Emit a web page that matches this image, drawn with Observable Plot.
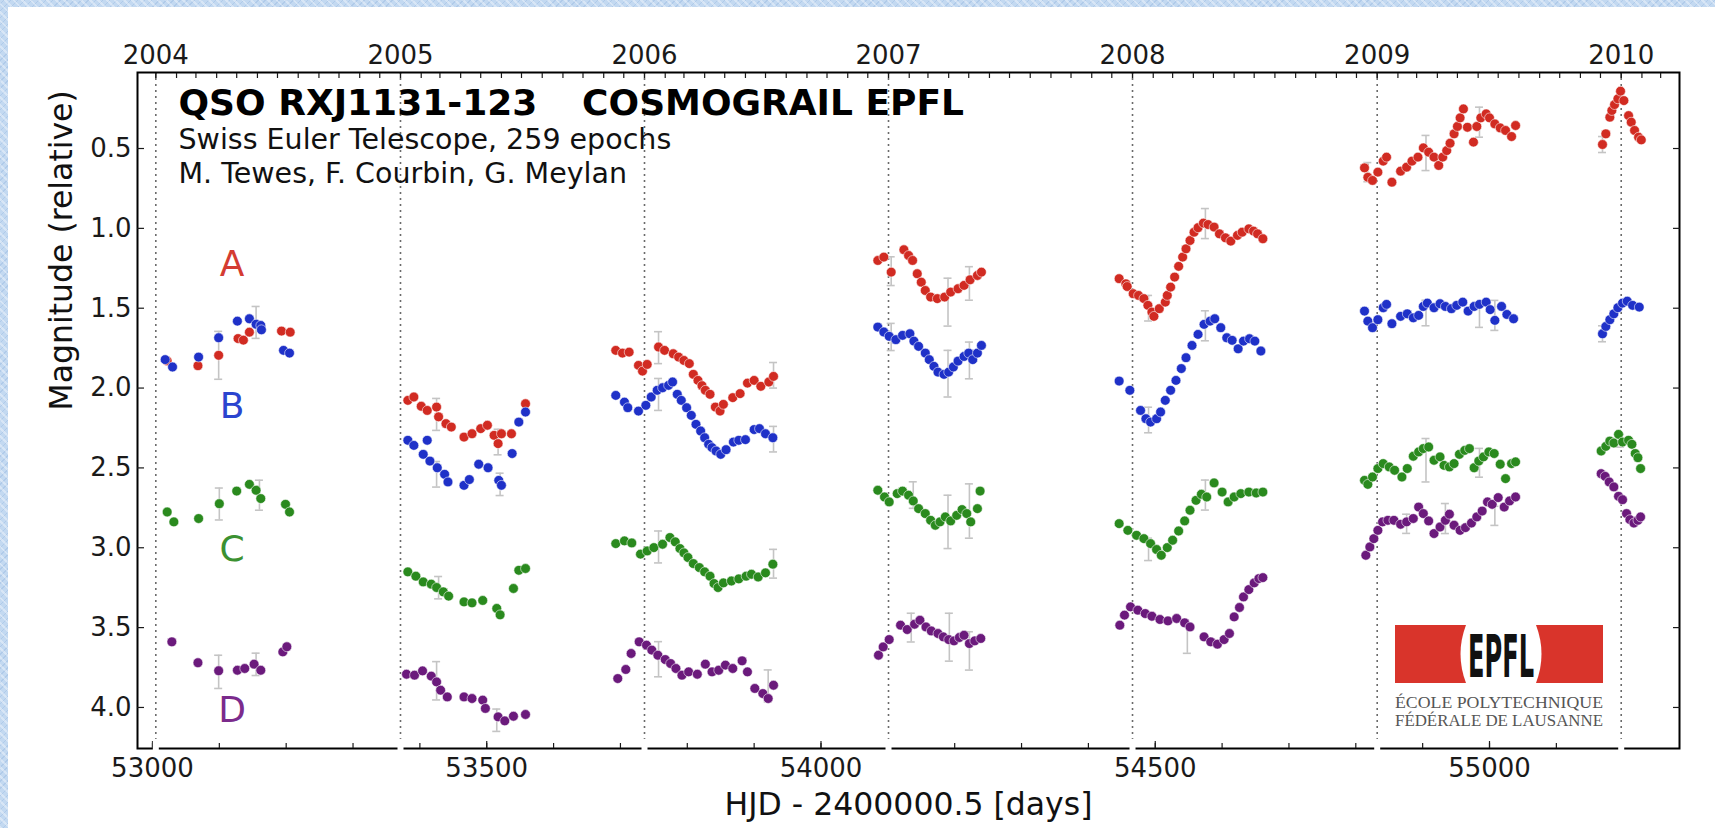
<!DOCTYPE html>
<html>
<head>
<meta charset="utf-8">
<script src="https://cdn.jsdelivr.net/npm/d3@7"></script>
<script src="https://cdn.jsdelivr.net/npm/@observablehq/plot@0.6"></script>
<style>
  html, body { margin: 0; padding: 0; width: 1715px; height: 828px; overflow: hidden; }
  body {
    background-color: #c3d9f1;
    background-image:
      repeating-linear-gradient(45deg, rgba(255,255,255,0.35) 0 2px, rgba(255,255,255,0) 2px 6px),
      repeating-linear-gradient(-45deg, rgba(120,160,210,0.25) 0 1px, rgba(255,255,255,0) 1px 5px);
    position: relative;
  }
  #panel { position: absolute; left: 8px; top: 7px; right: 0; bottom: 0; background: #ffffff; }
  #chart { position: absolute; left: 0; top: 0; }
  #logo { position: absolute; left: 0; top: 0; }
</style>
</head>
<body>
<div id="panel"></div>
<div id="chart"></div>
<svg id="logo" width="1715" height="828" xmlns="http://www.w3.org/2000/svg"></svg>
<script>
// ---------- data ----------
// each entry: [HJD - 2400000.5, relative magnitude]
const curveA = [
  [53022,1.83],[53068,1.86],[53099,1.795],[53128,1.69],[53136,1.70],[53145,1.65],[53193,1.643],[53206,1.65],
  [53382,2.077],[53391,2.056],[53402,2.114],[53411,2.14],[53425,2.119],[53428,2.18],[53439,2.223],[53447,2.244],[53466,2.307],[53478,2.286],[53491,2.254],[53501,2.233],[53511,2.296],[53517,2.348],[53522,2.286],[53537,2.286],[53558,2.098],
  [53693,1.764],[53703,1.781],[53713,1.775],[53727,1.858],[53733,1.894],[53740,1.852],[53757,1.743],[53766,1.764],[53779,1.785],[53787,1.806],[53795,1.827],[53803,1.847],[53809,1.914],[53816,1.952],[53822,1.985],[53827,2.014],[53834,2.039],[53842,2.119],[53849,2.144],[53854,2.102],[53868,2.06],[53879,2.035],[53890,1.969],[53900,1.952],[53910,1.989],[53922,1.962],[53929,1.927],
  [54085,1.201],[54094,1.18],[54105,1.274],[54124,1.134],[54131,1.17],[54137,1.201],[54144,1.284],[54150,1.337],[54156,1.389],[54164,1.43],[54174,1.44],[54185,1.43],[54194,1.399],[54205,1.378],[54214,1.357],[54223,1.322],[54234,1.295],[54240,1.274],
  [54446,1.315],[54456,1.347],[54458,1.364],[54467,1.409],[54475,1.42],[54483,1.44],[54489,1.482],[54495,1.524],[54498,1.551],[54506,1.503],[54515,1.462],[54518,1.42],[54523,1.368],[54529,1.305],[54535,1.238],[54541,1.18],[54546,1.128],[54552,1.076],[54558,1.024],[54564,0.996],[54572,0.967],[54579,0.976],[54588,0.992],[54596,1.034],[54605,1.059],[54613,1.08],[54623,1.044],[54630,1.024],[54640,1.003],[54647,1.017],[54653,1.034],[54661,1.065],
  [54813,0.621],[54818,0.68],[54825,0.70],[54833,0.648],[54841,0.579],[54846,0.554],[54854,0.711],[54867,0.642],[54876,0.617],[54884,0.579],[54893,0.554],[54901,0.496],[54909,0.523],[54917,0.554],[54924,0.606],[54930,0.554],[54936,0.513],[54941,0.467],[54947,0.408],[54952,0.362],[54956,0.308],[54961,0.252],[54967,0.367],[54976,0.46],[54981,0.362],[54987,0.308],[54995,0.283],[55000,0.308],[55008,0.346],[55016,0.371],[55024,0.387],[55033,0.425],[55039,0.356],
  [55169,0.475],[55174,0.408],[55180,0.304],[55183,0.262],[55187,0.225],[55192,0.189],[55196,0.141],[55201,0.20],[55208,0.294],[55212,0.335],[55217,0.387],[55223,0.429],[55227,0.446]
];
const curveB = [
  [53019,1.822],[53030,1.868],[53069,1.806],[53099,1.685],[53127,1.581],[53145,1.566],[53155,1.60],[53162,1.608],[53163,1.635],[53196,1.764],[53205,1.781],
  [53382,2.327],[53391,2.359],[53405,2.415],[53411,2.327],[53415,2.457],[53426,2.499],[53437,2.54],[53442,2.588],[53466,2.609],[53474,2.573],[53488,2.477],[53502,2.499],[53518,2.578],[53522,2.609],[53538,2.41],[53548,2.213],[53558,2.15],
  [53693,2.046],[53706,2.088],[53711,2.123],[53727,2.144],[53738,2.108],[53746,2.056],[53755,2.014],[53763,1.998],[53772,1.983],[53778,1.962],[53785,2.039],[53791,2.077],[53799,2.123],[53806,2.171],[53813,2.227],[53820,2.269],[53826,2.311],[53832,2.352],[53837,2.373],[53843,2.394],[53850,2.415],[53858,2.386],[53869,2.338],[53877,2.327],[53887,2.323],[53900,2.26],[53908,2.254],[53917,2.286],[53928,2.311],
  [54085,1.618],[54094,1.649],[54102,1.676],[54112,1.697],[54122,1.67],[54133,1.66],[54139,1.706],[54146,1.739],[54156,1.781],[54162,1.822],[54169,1.864],[54175,1.90],[54184,1.914],[54191,1.90],[54198,1.868],[54205,1.831],[54214,1.802],[54221,1.781],[54227,1.822],[54234,1.781],[54240,1.733],
  [54446,1.956],[54462,2.014],[54478,2.14],[54486,2.192],[54493,2.213],[54502,2.192],[54508,2.15],[54515,2.077],[54523,2.014],[54531,1.952],[54539,1.878],[54546,1.81],[54555,1.733],[54564,1.664],[54573,1.601],[54582,1.581],[54589,1.566],[54598,1.622],[54607,1.685],[54615,1.701],[54624,1.754],[54632,1.706],[54641,1.691],[54649,1.706],[54658,1.768],
  [54813,1.518],[54818,1.581],[54825,1.622],[54833,1.572],[54841,1.497],[54846,1.476],[54854,1.597],[54867,1.551],[54877,1.535],[54886,1.56],[54894,1.545],[54901,1.489],[54907,1.468],[54917,1.497],[54926,1.472],[54934,1.489],[54943,1.503],[54951,1.482],[54960,1.462],[54968,1.518],[54977,1.489],[54985,1.476],[54995,1.462],[55001,1.509],[55008,1.576],[55018,1.489],[55026,1.539],[55036,1.566],
  [55169,1.66],[55174,1.614],[55180,1.572],[55186,1.535],[55192,1.497],[55199,1.468],[55206,1.456],[55214,1.482],[55224,1.493]
];
const curveC = [
  [53022,2.776],[53032,2.838],[53069,2.817],[53100,2.724],[53126,2.645],[53145,2.603],[53155,2.64],[53162,2.692],[53199,2.728],[53205,2.776],
  [53382,3.151],[53394,3.178],[53405,3.214],[53417,3.228],[53425,3.249],[53435,3.276],[53443,3.303],[53466,3.339],[53478,3.345],[53494,3.33],[53515,3.38],[53520,3.42],[53540,3.255],[53548,3.141],[53558,3.13],
  [53693,2.974],[53706,2.957],[53717,2.97],[53730,3.04],[53740,3.02],[53750,2.999],[53763,2.978],[53774,2.936],[53782,2.963],[53789,3.005],[53795,3.032],[53801,3.061],[53809,3.099],[53818,3.124],[53826,3.151],[53834,3.178],[53840,3.224],[53846,3.249],[53854,3.22],[53866,3.208],[53877,3.195],[53888,3.178],[53896,3.166],[53906,3.183],[53917,3.157],[53928,3.103],
  [54085,2.64],[54095,2.682],[54102,2.713],[54114,2.661],[54122,2.645],[54131,2.671],[54138,2.707],[54146,2.755],[54156,2.786],[54164,2.828],[54171,2.859],[54178,2.838],[54186,2.807],[54194,2.832],[54203,2.797],[54211,2.761],[54218,2.786],[54224,2.838],[54234,2.755],[54238,2.645],
  [54446,2.849],[54459,2.891],[54472,2.922],[54483,2.943],[54493,2.974],[54502,3.011],[54509,3.047],[54518,2.999],[54526,2.953],[54535,2.895],[54544,2.832],[54552,2.765],[54561,2.703],[54569,2.665],[54577,2.682],[54588,2.594],[54600,2.651],[54609,2.713],[54618,2.682],[54628,2.661],[54640,2.651],[54651,2.657],[54661,2.651],
  [54813,2.578],[54818,2.603],[54825,2.557],[54833,2.504],[54841,2.473],[54850,2.494],[54858,2.515],[54869,2.557],[54877,2.504],[54886,2.427],[54894,2.40],[54901,2.379],[54909,2.369],[54917,2.452],[54926,2.431],[54932,2.484],[54940,2.494],[54947,2.473],[54955,2.415],[54963,2.39],[54970,2.379],[54977,2.499],[54984,2.457],[54991,2.431],[54999,2.40],[55007,2.41],[55016,2.477],[55024,2.567],[55033,2.473],[55039,2.462],
  [55167,2.394],[55174,2.365],[55180,2.332],[55186,2.344],[55193,2.29],[55199,2.338],[55208,2.327],[55213,2.352],[55218,2.41],[55222,2.436],[55226,2.504]
];
const curveD = [
  [53029,3.589],[53068,3.72],[53099,3.77],[53127,3.767],[53138,3.756],[53152,3.729],[53162,3.767],[53195,3.652],[53201,3.62],
  [53380,3.792],[53392,3.798],[53404,3.771],[53417,3.804],[53425,3.84],[53431,3.892],[53441,3.934],[53466,3.934],[53478,3.944],[53494,3.954],[53498,4.006],[53517,4.059],[53527,4.084],[53540,4.055],[53558,4.044],
  [53696,3.819],[53708,3.762],[53716,3.662],[53728,3.589],[53739,3.61],[53747,3.641],[53756,3.673],[53767,3.70],[53775,3.725],[53783,3.756],[53792,3.798],[53802,3.777],[53815,3.792],[53827,3.729],[53837,3.777],[53847,3.767],[53857,3.735],[53868,3.756],[53882,3.708],[53890,3.777],[53901,3.881],[53913,3.913],[53921,3.944],[53929,3.861],
  [54086,3.673],[54093,3.621],[54102,3.575],[54119,3.485],[54129,3.512],[54140,3.479],[54148,3.454],[54157,3.496],[54165,3.521],[54175,3.537],[54183,3.558],[54191,3.575],[54199,3.583],[54207,3.562],[54214,3.548],[54222,3.60],[54230,3.583],[54239,3.568],
  [54447,3.485],[54454,3.422],[54463,3.37],[54474,3.391],[54485,3.412],[54495,3.429],[54507,3.449],[54519,3.458],[54532,3.443],[54544,3.47],[54552,3.496],[54573,3.558],[54583,3.589],[54593,3.604],[54603,3.575],[54611,3.537],[54618,3.433],[54626,3.374],[54632,3.308],[54640,3.262],[54648,3.22],[54655,3.193],[54661,3.187],
  [54815,3.047],[54821,2.995],[54827,2.943],[54833,2.891],[54840,2.838],[54848,2.828],[54857,2.828],[54867,2.853],[54876,2.838],[54886,2.817],[54894,2.745],[54901,2.786],[54909,2.832],[54917,2.911],[54926,2.87],[54934,2.828],[54940,2.79],[54947,2.859],[54956,2.891],[54964,2.874],[54973,2.845],[54981,2.807],[54989,2.77],[54997,2.713],[55004,2.728],[55013,2.686],[55022,2.745],[55030,2.707],[55039,2.682],
  [55167,2.536],[55173,2.553],[55179,2.588],[55186,2.619],[55193,2.678],[55199,2.699],[55205,2.786],[55210,2.824],[55216,2.845],[55222,2.828],[55226,2.807]
];
// visible error bars: [day, magnitude, half-length]
const errA = [[53099,1.795,0.15],[53425,2.165,0.1],[53517,2.338,0.08],[53757,1.747,0.1],[53929,1.92,0.08],[54105,1.268,0.09],[54190,1.462,0.15],[54222,1.345,0.105],[54490,1.5,0.08],[54575,0.97,0.094],[54818,0.648,0.06],[54905,0.528,0.11],[54985,0.335,0.094],[55169,0.475,0.05]];
const errB = [[53155,1.589,0.1],[53425,2.54,0.08],[53520,2.603,0.07],[53757,2.04,0.1],[53929,2.32,0.08],[54105,1.68,0.085],[54190,1.91,0.146],[54222,1.827,0.115],[54490,2.2,0.08],[54575,1.61,0.094],[54905,1.53,0.08],[54985,1.55,0.07],[55008,1.545,0.094],[55169,1.66,0.05]];
const errC = [[53100,2.726,0.1],[53160,2.671,0.094],[53428,3.25,0.07],[53757,2.995,0.1],[53929,3.1,0.09],[54138,2.67,0.083],[54190,2.838,0.167],[54222,2.77,0.17],[54490,3.01,0.07],[54575,2.67,0.094],[54905,2.452,0.136],[54985,2.468,0.09],[55196,2.33,0.04]];
const errD = [[53099,3.777,0.104],[53155,3.73,0.07],[53425,3.833,0.12],[53515,4.08,0.07],[53757,3.698,0.11],[53921,3.865,0.1],[54135,3.5,0.09],[54192,3.56,0.15],[54222,3.646,0.12],[54548,3.567,0.094],[54876,2.85,0.06],[54934,2.817,0.094],[55008,2.8,0.06]];

const curveNames = ["A", "B", "C", "D"];
const curveColors = ["#d12b22", "#1f31c8", "#2a8a1e", "#6b1a7c"];
const labelColors = ["#d43c32", "#2b44cf", "#3b9131", "#7b2b8c"];
// letter labels: [name, day, magnitude]
const letterLabels = [["A", 53119, 1.223], ["B", 53119, 2.118], ["C", 53119, 3.012], ["D", 53119, 4.017]];

const yearLabels = [2004, 2005, 2006, 2007, 2008, 2009, 2010];
const yTicks = [0.5, 1.0, 1.5, 2.0, 2.5, 3.0, 3.5, 4.0];
const xMajorTicks = [53000, 53500, 54000, 54500, 55000];
const xMinorTicks = d3.range(53000, 55300, 100);

const titleText = "QSO RXJ1131-123\u00a0\u00a0\u00a0\u2009COSMOGRAIL EPFL";
const subtitleLines = ["Swiss Euler Telescope, 259 epochs", "M. Tewes, F. Courbin, G. Meylan"];
const xLabel = "HJD - 2400000.5 [days]";
const yLabel = "Magnitude (relative)";

// ---------- derived ----------
const X0 = 52977.6, X1 = 55284.2;
const mjd = (y, m) => (Date.UTC(y, m, 1) - Date.UTC(1858, 10, 17)) / 864e5;
const yearDays = yearLabels.map(y => mjd(y, 0));
const monthDays = yearLabels.flatMap(y => d3.range(12).map(m => mjd(y, m))).filter(d => d > X0 && d < X1);

const points = [curveA, curveB, curveC, curveD].flatMap((c, i) => c.map(([d, m]) => ({d, m, k: curveNames[i]})));
const errs = [errA, errB, errC, errD].flatMap((c, i) => c.map(([d, m, e]) => ({d, m, e, k: curveNames[i]})));
const labels = letterLabels.map(([k, d, m]) => ({k, d, m}));

const FONT = "DejaVu Sans, Bitstream Vera Sans, sans-serif";

const chart = Plot.plot({
  width: 1715,
  height: 828,
  marginLeft: 137,
  marginRight: 36,
  marginTop: 72,
  marginBottom: 80,
  style: {background: "transparent", fontFamily: FONT, color: "#1a1a1a"},
  x: {domain: [X0, X1]},
  y: {domain: [0.024, 4.257], reverse: true},
  color: {domain: curveNames, range: curveColors},
  marks: [
    Plot.ruleX(yearDays, {stroke: "#6b6b6b", strokeWidth: 1.6, strokeDasharray: "2,4"}),
    Plot.ruleX(errs, {x: "d", y1: r => r.m - r.e, y2: r => r.m + r.e, stroke: "#c4c4c4", strokeWidth: 1.6}),
    Plot.ruleY(errs, {y: r => r.m - r.e, x1: r => r.d - 6, x2: r => r.d + 6, stroke: "#c4c4c4", strokeWidth: 1.6}),
    Plot.ruleY(errs, {y: r => r.m + r.e, x1: r => r.d - 6, x2: r => r.d + 6, stroke: "#c4c4c4", strokeWidth: 1.6}),
    Plot.dot(points, {x: "d", y: "m", fill: "k", r: 4.9, stroke: "white", strokeWidth: 0.7, strokeOpacity: 0.8}),
    Plot.text(labels, {x: "d", y: "m", text: "k", fill: r => labelColors[curveNames.indexOf(r.k)], fontSize: 36, lineAnchor: "middle"}),
    Plot.text([titleText], {frameAnchor: "top-left", dx: 41, dy: 17.4, textAnchor: "start", lineAnchor: "top", fontSize: 36, fontWeight: "bold", fill: "#000"}),
    Plot.text([subtitleLines[0]], {frameAnchor: "top-left", dx: 41, dy: 55.8, textAnchor: "start", lineAnchor: "top", fontSize: 28.5, fill: "#111"}),
    Plot.text([subtitleLines[1]], {frameAnchor: "top-left", dx: 41, dy: 89.8, textAnchor: "start", lineAnchor: "top", fontSize: 28.5, fill: "#111"}),
    Plot.frame({stroke: "#000", strokeWidth: 2}),
    Plot.axisY(yTicks, {anchor: "left", tickSize: -7, tickPadding: 13, fontSize: 26, tickFormat: d3.format(".1f"), label: null, strokeWidth: 1.2}),
    Plot.axisY(yTicks, {anchor: "right", tickSize: -7, tickFormat: () => "", label: null, strokeWidth: 1.2}),
    Plot.axisX(monthDays, {anchor: "top", tickSize: -5, tickFormat: () => "", label: null, strokeWidth: 1.2}),
    Plot.axisX(yearDays, {anchor: "top", tickSize: -5, tickPadding: 14, fontSize: 26, tickFormat: (d, i) => String(yearLabels[i]), label: null, strokeWidth: 1.2}),
    Plot.axisX(xMinorTicks, {anchor: "bottom", tickSize: -5, tickFormat: () => "", label: null, strokeWidth: 1.2}),
    Plot.axisX(xMajorTicks, {anchor: "bottom", tickSize: -7, tickPadding: 17, fontSize: 26, tickFormat: d3.format("d"), label: null, strokeWidth: 1.2}),
    Plot.ruleX(yearDays, {y1: 4.2, y2: 4.285, stroke: "#ffffff", strokeWidth: 6}),
    Plot.text([xLabel], {frameAnchor: "bottom", dy: 44, lineAnchor: "top", fontSize: 31.5, fill: "#111"}),
    Plot.text([yLabel], {frameAnchor: "left", dx: -88, rotate: -90, lineAnchor: "top", fontSize: 31.5, fill: "#111"})
  ]
});
document.getElementById("chart").appendChild(chart);

// ---------- EPFL logo (decoration) ----------
const ns = "http://www.w3.org/2000/svg";
const logo = document.getElementById("logo");
function add(tag, attrs, text) {
  const el = document.createElementNS(ns, tag);
  for (const k in attrs) el.setAttribute(k, attrs[k]);
  if (text) el.textContent = text;
  logo.appendChild(el);
  return el;
}
add("rect", {x: 1395, y: 625, width: 208, height: 58, fill: "#d9342b"});
add("path", {d: "M1466,625 Q1455,654 1466,683 L1536,683 Q1547,654 1536,625 Z", fill: "#ffffff"});
add("text", {x: 1468, y: 677, "font-family": "DejaVu Sans Condensed, DejaVu Sans", "font-weight": "bold", "font-size": 58, fill: "#111", textLength: 66, lengthAdjust: "spacingAndGlyphs"}, "EPFL");
add("text", {x: 1395, y: 708, "font-family": "Liberation Serif, serif", "font-size": 17, fill: "#555", textLength: 208, lengthAdjust: "spacingAndGlyphs"}, "ÉCOLE POLYTECHNIQUE");
add("text", {x: 1395, y: 726, "font-family": "Liberation Serif, serif", "font-size": 17, fill: "#555", textLength: 208, lengthAdjust: "spacingAndGlyphs"}, "FÉDÉRALE DE LAUSANNE");
</script>
</body>
</html>
